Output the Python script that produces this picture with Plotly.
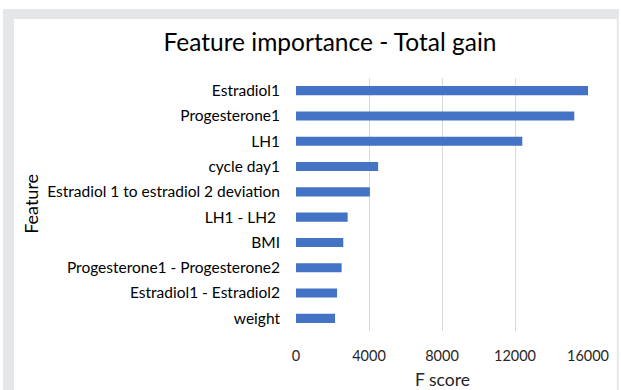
import plotly.graph_objects as go

features = ["Estradiol1", "Progesterone1", "LH1", "cycle day1",
            "Estradiol 1 to estradiol 2 deviation", "LH1 - LH2 ", "BMI",
            "Progesterone1 - Progesterone2", "Estradiol1 - Estradiol2", "weight"]
scores = [16050, 15250, 12400, 4500, 4050, 2830, 2590, 2500, 2250, 2140]
x_ticks = [0, 4000, 8000, 12000, 16000]

W, H = 621, 390
L, R, T, B = 296, 31, 78, 59
pw, ph = W - L - R, H - T - B

def px_x(p):
    return (p - L) / pw

def px_y(p):
    return 1 - (p - T) / ph

fig = go.Figure(go.Bar(
    x=scores[::-1], y=features[::-1], orientation="h",
    marker=dict(color="#4472C4", line=dict(width=0)),
    cliponaxis=False,
))

shapes = [
    dict(type="rect", xref="paper", yref="paper", layer="below",
         x0=px_x(1), x1=px_x(621), y0=px_y(9), y1=px_y(19),
         fillcolor="#e5e6e8", line=dict(width=0)),
    dict(type="rect", xref="paper", yref="paper", layer="below",
         x0=px_x(1), x1=px_x(12), y0=px_y(9), y1=px_y(391),
         fillcolor="#e5e6e8", line=dict(width=0)),
    dict(type="rect", xref="paper", yref="paper", layer="below",
         x0=px_x(619), x1=px_x(621), y0=px_y(9), y1=px_y(391),
         fillcolor="#e5e6e8", line=dict(width=0)),
]

annotations = [
    dict(text="F score", xref="paper", yref="paper", x=px_x(443), y=px_y(379),
         xanchor="center", yanchor="middle", showarrow=False,
         font=dict(family="Lato", size=17.5, color="#262626")),
    dict(text="Feature", xref="paper", yref="paper", x=px_x(29), y=px_y(204),
         xanchor="center", yanchor="middle", showarrow=False, textangle=-90,
         font=dict(family="Lato", size=18, color="#000000")),
]

fig.update_layout(
    width=W, height=H,
    margin=dict(l=L, r=R, t=T, b=B, pad=0),
    paper_bgcolor="white", plot_bgcolor="white",
    showlegend=False,
    bargap=0.64,
    font=dict(family="Lato", color="#262626"),
    title=dict(text="Feature importance - Total gain", x=330 / W, xref="container",
               xanchor="center", y=1 - 42 / H, yref="container", yanchor="middle",
               font=dict(family="Lato", size=24.5, color="#000000")),
    shapes=shapes,
    annotations=annotations,
)
fig.update_xaxes(range=[0, 16000], tickvals=x_ticks, ticktext=[str(v) for v in x_ticks],
                 showgrid=True, gridcolor="#d9d9d9", gridwidth=1,
                 zeroline=False, showline=False,
                 tickfont=dict(size=14.5, color="#262626"), ticklabelstandoff=14)
fig.update_yaxes(showgrid=False, zeroline=False, showline=False,
                 tickfont=dict(size=15.5, color="#000000"), ticklabelstandoff=15)

fig.write_html("out.html")
